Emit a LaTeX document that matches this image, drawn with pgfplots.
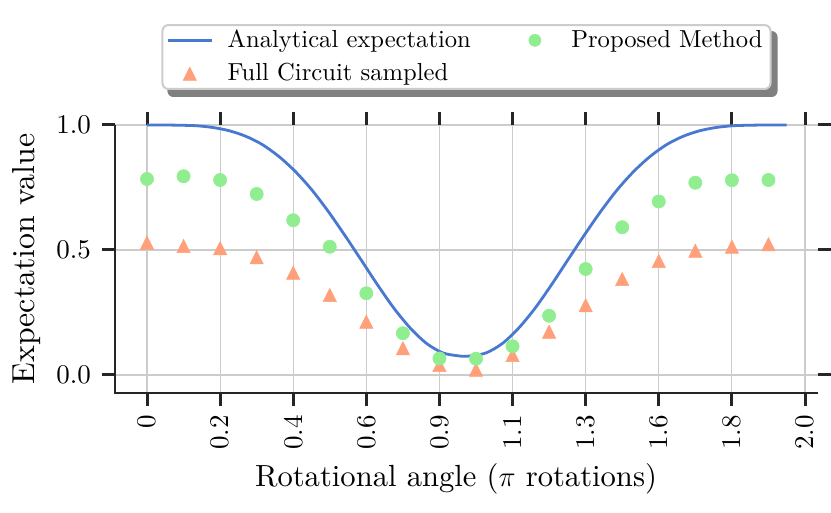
\documentclass[border=0pt]{standalone}
\usepackage{fontspec}
\setmainfont{lmroman10-regular}[Extension=.otf]
\usepackage{pgfplots}
\pgfplotsset{compat=1.18}
\usetikzlibrary{backgrounds}
\definecolor{cblue}{HTML}{4878D0}
\definecolor{cgreen}{HTML}{90EE90}
\definecolor{corange}{HTML}{FFA07A}
\definecolor{spine}{HTML}{262626}
\definecolor{gridc}{HTML}{CCCCCC}
\pgfdeclareplotmark{mtri}{%
  \pgfpathmoveto{\pgfqpoint{0pt}{\pgfplotmarksize}}%
  \pgfpathlineto{\pgfqpoint{-\pgfplotmarksize}{-\pgfplotmarksize}}%
  \pgfpathlineto{\pgfqpoint{\pgfplotmarksize}{-\pgfplotmarksize}}%
  \pgfpathclose
  \pgfusepathqfillstroke}

\pgfplotstableread{
x y
0.000 1.000
0.050 1.000
0.100 0.999
0.150 0.997
0.200 0.990
0.250 0.977
0.300 0.955
0.350 0.922
0.400 0.875
0.450 0.815
0.500 0.742
0.550 0.656
0.600 0.561
0.650 0.462
0.700 0.362
0.750 0.268
0.800 0.188
0.850 0.126
0.900 0.088
0.950 0.076
0.965 0.075
0.980 0.076
1.030 0.088
1.080 0.126
1.130 0.188
1.180 0.268
1.230 0.362
1.280 0.462
1.330 0.561
1.380 0.656
1.430 0.742
1.480 0.815
1.530 0.875
1.580 0.922
1.630 0.955
1.680 0.977
1.730 0.990
1.780 0.997
1.830 0.999
1.880 1.000
1.944 1.000
}\analytic

\pgfplotstableread{
x y
0.00000 0.784
0.11111 0.795
0.22222 0.780
0.33333 0.724
0.44444 0.619
0.55556 0.513
0.66667 0.327
0.77778 0.167
0.88889 0.066
1.00000 0.065
1.11111 0.115
1.22222 0.237
1.33333 0.424
1.44444 0.591
1.55556 0.694
1.66667 0.769
1.77778 0.779
1.88889 0.780
}\proposed

\pgfplotstableread{
x y
0.00000 0.529
0.11111 0.516
0.22222 0.507
0.33333 0.471
0.44444 0.409
0.55556 0.320
0.66667 0.213
0.77778 0.107
0.88889 0.040
1.00000 0.021
1.11111 0.080
1.22222 0.173
1.33333 0.279
1.44444 0.384
1.55556 0.456
1.66667 0.497
1.77778 0.513
1.88889 0.523
}\fullcirc

\begin{document}
\begin{tikzpicture}
\path[use as bounding box] (-57.5pt,-60pt) rectangle (358pt,196.5pt);
\begin{axis}[
  at={(0pt,0pt)}, anchor=south west,
  scale only axis, width=351.5pt, height=134pt,
  xmin=-0.0973, xmax=2.0395, ymin=-0.072, ymax=1.0,
  clip=false,
  axis line style={draw=none},
  xtick={0,0.22222,0.44444,0.66667,0.88889,1.11111,1.33333,1.55556,1.77778,2.0},
  xticklabels={0,0.2,0.4,0.6,0.9,1.1,1.3,1.6,1.8,2.0},
  ytick={0,0.5,1},
  yticklabels={0.0,0.5,1.0},
  tick align=outside,
  major tick length=6.5pt,
  tick style={color=spine, line width=1.5pt},
  grid=major,
  major grid style={gridc, line width=0.6pt},
  tick label style={font=\fontsize{13.5}{15}\selectfont},
  xticklabel style={rotate=90, anchor=east},
  xticklabel shift=1pt,
  yticklabel shift=2pt,
  legend columns=2,
  legend cell align=left,
  legend image code/.code={\path[draw=none,fill=none] (0pt,0pt) -- (22pt,0pt);\draw[sharp corners,mark repeat=2,mark phase=2,#1] plot coordinates {(0pt,0pt)(11pt,0pt)(22pt,0pt)};},
  legend style={name=leg, at={(0.5,1)}, anchor=south, yshift=17.5pt,
    draw=gridc, line width=1pt, rounded corners=3pt, fill=white,
    inner xsep=2pt, inner ysep=0.5pt, row sep=2.5pt,
    font=\fontsize{12.3}{14}\selectfont,
    /tikz/every odd column/.append style={column sep=5.2pt},
    /tikz/every even column/.append style={column sep=19pt}},
]
\addplot[cblue, line width=1.4pt, smooth, forget plot] table[x=x,y=y] {\analytic};
\addplot[only marks, mark=mtri, mark size=3.3pt, mark options={draw=corange, fill=corange, line width=0.3pt}, forget plot] table[x=x,y=y] {\fullcirc};
\addplot[only marks, mark=*, mark size=3.3pt, mark options={draw=cgreen, fill=cgreen, line width=0.3pt}, forget plot] table[x=x,y=y] {\proposed};
\draw[spine, line width=1pt] (rel axis cs:0,1) -- (rel axis cs:0,0) -- (rel axis cs:1,0);
\addlegendimage{cblue, line width=1.4pt}
\addlegendentry{Analytical expectation}
\addlegendimage{only marks, mark=*, mark size=3pt, mark options={draw=cgreen, fill=cgreen, line width=0.3pt}}
\addlegendentry{Proposed Method}
\addlegendimage{only marks, mark=mtri, mark size=3.3pt, mark options={draw=corange, fill=corange, line width=0.3pt}}
\addlegendentry{Full Circuit sampled}
\end{axis}
\begin{scope}[on background layer]
\fill[black!50, rounded corners=3pt] ([xshift=3pt,yshift=-3.5pt]leg.south west) rectangle ([xshift=3pt,yshift=-3.5pt]leg.north east);
\end{scope}
\node[rotate=90, anchor=base, font=\fontsize{15.9}{17}\selectfont] at (-40pt,67pt) {Expectation value};
\node[anchor=base, font=\fontsize{15.3}{17}\selectfont] at (170.5pt,-47pt) {Rotational angle ($\pi$ rotations)};
\end{tikzpicture}
\end{document}
